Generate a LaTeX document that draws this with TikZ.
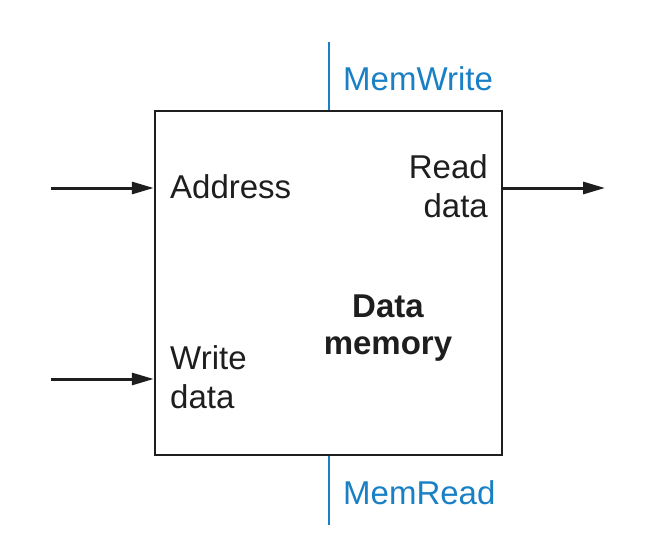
\documentclass[tikz,border=0pt]{standalone}
\usepackage{fontspec}
\setmainfont{Liberation Sans}
\usetikzlibrary{arrows.meta}
\definecolor{memblue}{RGB}{26,128,198}
\definecolor{ink}{RGB}{30,30,30}
\begin{document}
\begin{tikzpicture}[x=1pt,y=-1pt,
  lbl/.style={inner sep=0pt,font=\fontsize{33}{39}\selectfont,text=ink},
  ctl/.style={inner sep=0pt,font=\fontsize{33}{39}\selectfont,text=memblue},
  arr/.style={line width=3pt,draw=ink,-{Triangle[length=22pt,width=12pt]}},
  ctlline/.style={line width=2pt,draw=memblue},
  boxst/.style={draw=ink,line width=2.5pt,minimum width=347pt,minimum height=344pt,inner sep=0pt}]
\useasboundingbox (0,0) rectangle (668,551);
\node[boxst] (mem) at (328.5,283) {};
\node[lbl,anchor=base west] (addr) at (170,198) {Address};
\node[lbl,anchor=base east,align=right] (rd) at (488,217) {Read\\data};
\node[lbl,anchor=base west,align=left] (wd) at (170,408) {Write\\data};
\node[lbl,anchor=base,align=center,font=\fontsize{33}{37}\selectfont\bfseries] (dm) at (388,354) {Data\\memory};
\node[ctl,anchor=base west] (mw) at (343,90) {MemWrite};
\node[ctl,anchor=base west] (mr) at (343,504) {MemRead};
\coordinate (ain) at (51,188);
\coordinate (win) at (51,379);
\coordinate (rout) at (605,188);
\coordinate (mwtop) at (329,42);
\coordinate (mrbot) at (329,525);
\draw[arr] (ain) -- (ain -| mem.west);
\draw[arr] (win) -- (win -| mem.west);
\draw[arr] (rout -| mem.east) -- (rout);
\draw[ctlline] (mwtop) -- (mwtop |- mem.north);
\draw[ctlline] (mem.south -| mrbot) -- (mrbot);
\end{tikzpicture}
\end{document}
